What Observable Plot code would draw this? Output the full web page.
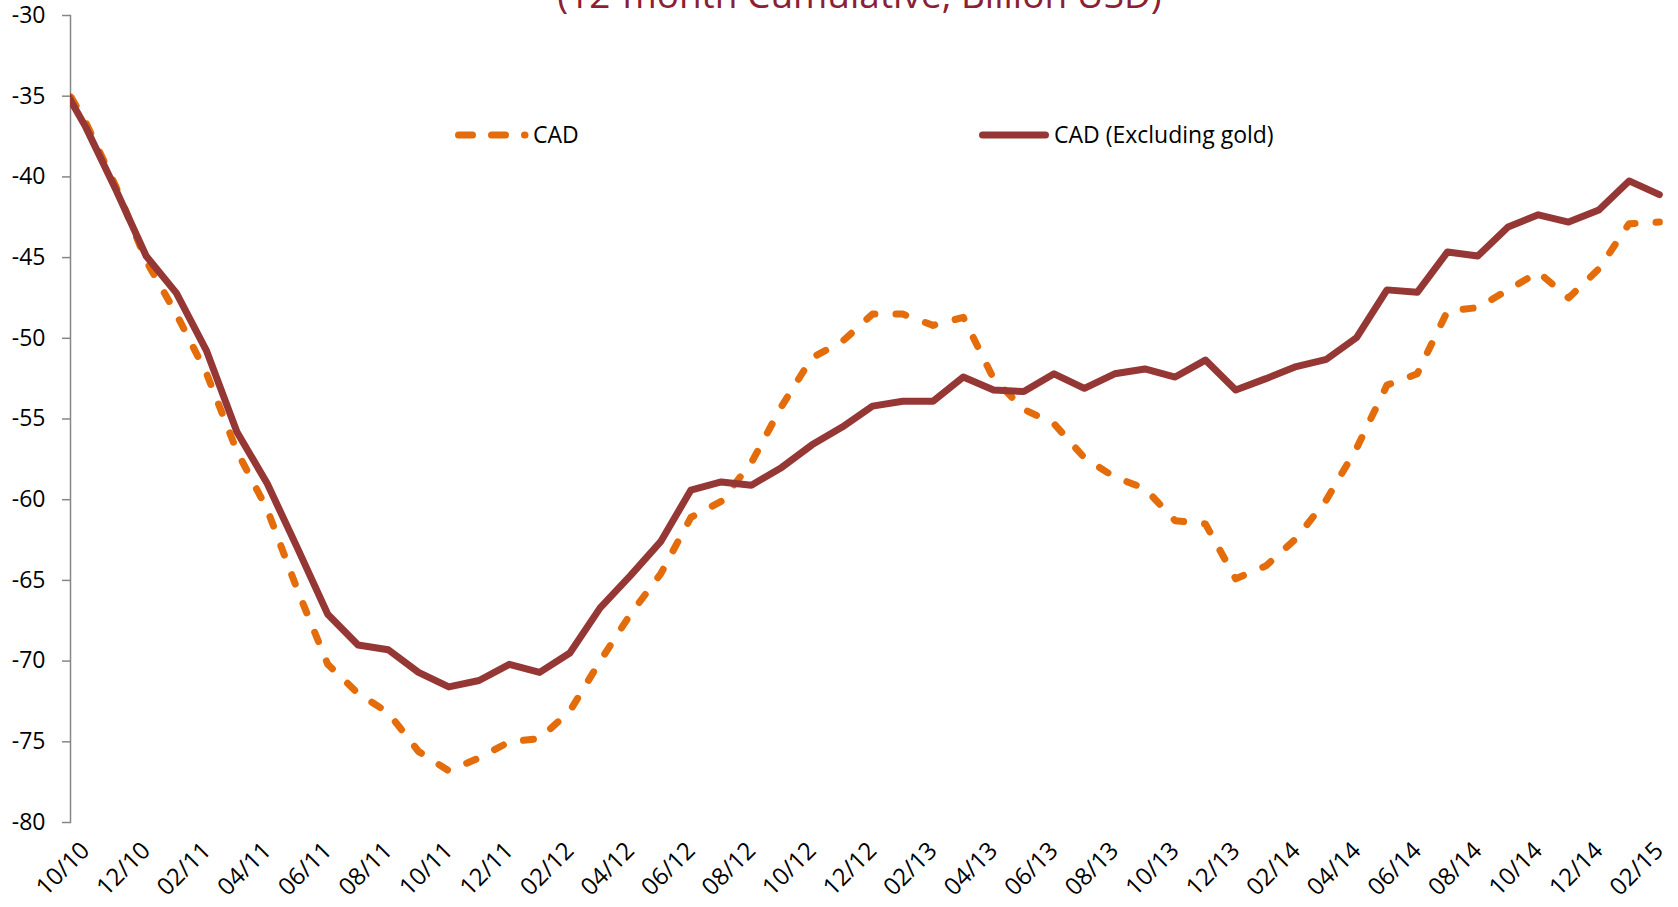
<!DOCTYPE html>
<html>
<head>
<meta charset="utf-8">
<script src="https://cdn.jsdelivr.net/npm/d3@7"></script>
<script src="https://cdn.jsdelivr.net/npm/@observablehq/plot@0.6"></script>
<style>
  html, body { margin: 0; padding: 0; background: #fff; }
  #wrap { position: relative; width: 1678px; height: 907px; overflow: hidden; font-family: "Open Sans", sans-serif; }
  #chart { position: absolute; left: 0; top: 0; }
  #title { position: absolute; left: 859.5px; top: -25.4px; transform: translateX(-50%); white-space: nowrap;
           font-size: 37px; line-height: 37px; color: #8C1F35; }
  .legtxt { position: absolute; top: 122.8px; font-size: 23px; line-height: 23px; color: #000; white-space: nowrap; }
  .legsvg { position: absolute; top: 128px; overflow: visible; }
</style>
</head>
<body>
<div id="wrap">
  <div id="chart"></div>
  <div id="title">(12-month Cumulative, Billion USD)</div>
  <svg class="legsvg" style="left:455px" width="75" height="14"><line x1="3.5" x2="70" y1="7" y2="7" stroke="#E46C0A" stroke-width="7" stroke-linecap="round" stroke-dasharray="14,19"/></svg>
  <div class="legtxt" id="leg1" style="left:533px"></div>
  <svg class="legsvg" style="left:979px" width="70" height="14"><line x1="3.5" x2="66.5" y1="7" y2="7" stroke="#953735" stroke-width="7" stroke-linecap="round"/></svg>
  <div class="legtxt" id="leg2" style="left:1054px"></div>
</div>
<script>
// Month labels (first entry is the month before the visible axis start; its segment is clipped)
const months = ["09/10",
  "10/10","11/10","12/10","01/11","02/11","03/11","04/11","05/11","06/11","07/11","08/11","09/11",
  "10/11","11/11","12/11","01/12","02/12","03/12","04/12","05/12","06/12","07/12","08/12","09/12",
  "10/12","11/12","12/12","01/13","02/13","03/13","04/13","05/13","06/13","07/13","08/13","09/13",
  "10/13","11/13","12/13","01/14","02/14","03/14","04/14","05/14","06/14","07/14","08/14","09/14",
  "10/14","11/14","12/14","01/15","02/15"];

const seriesNames = ["CAD", "CAD (Excluding gold)"];

// CAD (12-month cumulative, billion USD)
const cad = [-33.4,
  -36.6,-40.6,-45.2,-48.5,-52.2,-57.0,-60.6,-65.6,-70.2,-72.0,-73.2,-75.6,
  -76.8,-76.0,-75.0,-74.8,-73.1,-70.0,-67.1,-64.6,-61.1,-60.1,-57.7,-54.2,
  -51.2,-50.2,-48.5,-48.5,-49.2,-48.7,-52.5,-54.4,-55.3,-57.4,-58.6,-59.3,
  -61.3,-61.5,-64.9,-64.1,-62.4,-60.0,-56.8,-52.9,-52.2,-48.3,-48.1,-47.0,
  -45.9,-47.5,-45.7,-42.9,-42.8];

// CAD excluding gold
const exGold = [-33.6,
  -36.9,-40.8,-44.9,-47.2,-50.8,-55.8,-59.0,-63.0,-67.1,-69.0,-69.3,-70.7,
  -71.6,-71.2,-70.2,-70.7,-69.5,-66.7,-64.7,-62.6,-59.4,-58.9,-59.1,-58.0,
  -56.6,-55.5,-54.2,-53.9,-53.9,-52.4,-53.2,-53.3,-52.2,-53.1,-52.2,-51.9,
  -52.4,-51.35,-53.2,-52.5,-51.75,-51.3,-49.95,-47.0,-47.15,-44.65,-44.9,-43.1,
  -42.35,-42.8,-42.05,-40.25,-41.1];

const yTicks = [-80,-75,-70,-65,-60,-55,-50,-45,-40,-35,-30];
const xTickIdx = months.map((m, i) => i).filter(i => i >= 1 && (i - 1) % 2 === 0);

const rows = months.map((m, i) => ({i, month: m, cad: cad[i], ex: exGold[i]}));

document.getElementById("leg1").textContent = seriesNames[0];
document.getElementById("leg2").textContent = seriesNames[1];

const chart = Plot.plot({
  width: 1678,
  height: 907,
  marginLeft: 70,
  marginRight: 4,
  marginTop: 15,
  marginBottom: 85,
  style: {fontFamily: "Open Sans, sans-serif", background: "transparent", color: "#000"},
  x: {type: "linear", domain: [0.5, months.length - 0.5], nice: false, axis: null},
  y: {domain: [-80, -30], nice: false, axis: null},
  marks: [
    Plot.axisY({ticks: yTicks, tickSize: 8, tickPadding: 17, tickFormat: d => String(d),
                fontSize: 23, stroke: "#868686", strokeWidth: 1.5, fill: "#000", label: null}),
    Plot.frame({anchor: "left", stroke: "#868686", strokeWidth: 1.5}),
    Plot.axisX({ticks: xTickIdx, tickFormat: i => months[i], tickRotate: -45, tickSize: 0, tickPadding: 24,
                textAnchor: "end", fontSize: 24, fill: "#000", label: null}),
    Plot.line(rows, {x: "i", y: "cad", stroke: "#E46C0A", strokeWidth: 7, strokeDasharray: "10,21",
                     strokeLinecap: "round", strokeLinejoin: "round", clip: true}),
    Plot.line(rows, {x: "i", y: "ex", stroke: "#953735", strokeWidth: 7, strokeLinejoin: "round", clip: true})
  ]
});
document.getElementById("chart").appendChild(chart);
</script>
</body>
</html>
